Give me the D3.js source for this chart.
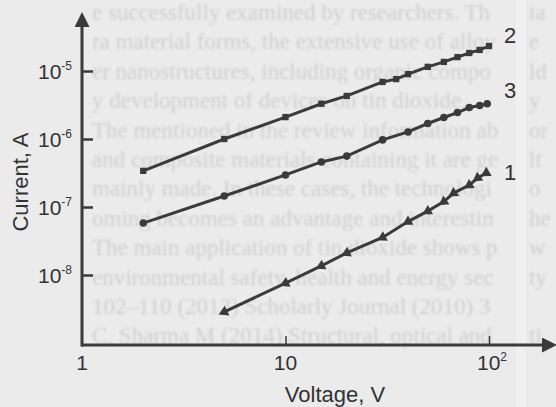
<!DOCTYPE html>
<html>
<head>
<meta charset="utf-8">
<script src="https://cdn.jsdelivr.net/npm/d3@7"></script>
<style>
  body { margin: 0; background: #ebebeb; }
  svg { display: block; }
</style>
</head>
<body>
<svg id="chart" width="556" height="407"></svg>
<script>
// curve 2 (squares)
const voltage2 = [2, 5, 10, 15, 20, 30, 35, 40, 50, 60, 70, 80, 90, 100];
const current2 = [3.4e-7, 1.0e-6, 2.1e-6, 3.3e-6, 4.3e-6, 6.9e-6, 7.6e-6, 9.0e-6, 1.15e-5, 1.36e-5, 1.6e-5, 1.84e-5, 2.04e-5, 2.33e-5];
// curve 3 (circles)
const voltage3 = [2, 5, 10, 15, 20, 30, 40, 50, 60, 70, 80, 90, 98];
const current3 = [5.8e-8, 1.45e-7, 2.96e-7, 4.6e-7, 5.6e-7, 9.7e-7, 1.27e-6, 1.69e-6, 2.07e-6, 2.45e-6, 2.9e-6, 3.1e-6, 3.3e-6];
// curve 1 (triangles)
const voltage1 = [5, 10, 15, 20, 30, 40, 50, 60, 67, 80, 88, 97];
const current1 = [2.86e-9, 7.6e-9, 1.36e-8, 2.11e-8, 3.56e-8, 6.1e-8, 8.7e-8, 1.2e-7, 1.6e-7, 2.1e-7, 2.67e-7, 3.16e-7];

const xTicks = [1, 10, 100];
const xTickLabels = [['1', ''], ['10', ''], ['10', '2']];
const yTicks = [1e-5, 1e-6, 1e-7, 1e-8];
const yTickLabels = [['10', '-5'], ['10', '-6'], ['10', '-7'], ['10', '-8']];

// faint text showing through the scanned page
const ghostLines = [
  'e successfully examined by researchers. The transi',
  'ra material forms, the extensive use of alloying, the',
  'er nanostructures, including organic components, are',
  'y development of devices on tin dioxide.',
  'The mentioned in the review information about',
  'and composite materials containing it are generally',
  'mainly made. In these cases, the technological',
  'oming becomes an advantage and interesting fo',
  'The main application of tin dioxide shows promi',
  'environmental safety, health and energy security.',
  '102–110 (2013) Scholarly Journal (2010) 35',
  'C, Sharma M (2014) Structural, optical and sensing'
];
const ghostRight = ['ta', 'e', 'ld', 'y', 'or', 'lt', 'o', 'he', 'w', 'ty', '', 'ti'];

const ink = '#3b3b3b';
const svg = d3.select('#chart');

const defs = svg.append('defs');
defs.append('filter').attr('id', 'soft')
  .append('feGaussianBlur').attr('stdDeviation', 0.9);
defs.append('marker')
  .attr('id', 'arrow')
  .attr('viewBox', '0 0 10 10')
  .attr('refX', 2).attr('refY', 5)
  .attr('markerWidth', 5).attr('markerHeight', 5)
  .attr('markerUnits', 'strokeWidth')
  .attr('orient', 'auto')
  .append('path').attr('d', 'M0,0 L10,5 L0,10 z').attr('fill', ink);

svg.append('rect').attr('width', 556).attr('height', 407).attr('fill', '#ebebeb');
svg.append('rect').attr('x', 516).attr('width', 10).attr('height', 407).attr('fill', '#f0f0f0');

// ghost text, left column then right column
const ghost = svg.append('g')
  .attr('filter', 'url(#soft)')
  .attr('font-family', '"Liberation Serif", "DejaVu Serif", serif')
  .attr('font-size', 23)
  .attr('fill', '#d0d0d0');
ghost.append('g')
  .selectAll('text')
  .data(ghostLines)
  .enter()
  .append('text')
  .attr('x', 92)
  .attr('y', (d, i) => 20 + i * 29.4)
  .text(d => d)
  .each(function(d) {
    // cut long lines where the page column ends
    let s = d;
    while (this.getComputedTextLength() > 408 && s.length > 1) {
      s = s.slice(0, -1);
      this.textContent = s;
    }
  });
ghost.append('g')
  .selectAll('text')
  .data(ghostRight)
  .enter()
  .append('text')
  .attr('x', 529)
  .attr('y', (d, i) => 20 + i * 29.4)
  .text(d => d);

// scales
const x = d3.scaleLog().domain([1, 100]).range([82, 489]);
const y = d3.scaleLog().domain([1e-8, 1e-5]).range([275, 71]);
const x0 = 82, y0 = 345;

// axes (ticks pointing inward)
svg.append('g')
  .attr('transform', `translate(0,${y0})`)
  .call(d3.axisBottom(x).tickValues(xTicks.slice(1)).tickSize(-9).tickFormat(''))
  .call(g => g.select('.domain').remove())
  .selectAll('line').attr('stroke', ink).attr('stroke-width', 1.5);
svg.append('g')
  .attr('transform', `translate(${x0},0)`)
  .call(d3.axisLeft(y).tickValues(yTicks).tickSize(-11).tickFormat(''))
  .call(g => g.select('.domain').remove())
  .selectAll('line').attr('stroke', ink).attr('stroke-width', 2.5);

svg.append('line')
  .attr('x1', x0 - 1).attr('y1', y0).attr('x2', 545).attr('y2', y0)
  .attr('stroke', ink).attr('stroke-width', 3).attr('marker-end', 'url(#arrow)');
svg.append('line')
  .attr('x1', x0).attr('y1', y0 + 1.5).attr('x2', x0).attr('y2', 24)
  .attr('stroke', ink).attr('stroke-width', 3).attr('marker-end', 'url(#arrow)');

const font = '"Liberation Sans", Arial, sans-serif';

// tick labels
const tl = svg.append('g').attr('font-family', font).attr('fill', '#333');
yTicks.forEach((v, i) => {
  const t = tl.append('text')
    .attr('x', 72).attr('y', y(v) + 8)
    .attr('text-anchor', 'end')
    .attr('font-size', 21);
  t.append('tspan').text(yTickLabels[i][0]);
  t.append('tspan').attr('font-size', 12).attr('dy', -9).text(yTickLabels[i][1]);
});
xTicks.forEach((v, i) => {
  const t = tl.append('text')
    .attr('x', x(v) + (xTickLabels[i][1] ? 3 : 0)).attr('y', 370)
    .attr('text-anchor', 'middle')
    .attr('font-size', 21);
  t.append('tspan').text(xTickLabels[i][0]);
  if (xTickLabels[i][1]) {
    t.append('tspan').attr('font-size', 12).attr('dy', -9).text(xTickLabels[i][1]);
  }
});

// axis titles
svg.append('text')
  .attr('x', 335).attr('y', 402)
  .attr('text-anchor', 'middle')
  .attr('font-family', font).attr('font-size', 22).attr('fill', '#333')
  .text('Voltage, V');
svg.append('text')
  .attr('transform', 'translate(28,182) rotate(-90)')
  .attr('text-anchor', 'middle')
  .attr('font-family', font).attr('font-size', 22).attr('fill', '#333')
  .text('Current, A');

// curves
const line = d3.line().x(d => x(d[0])).y(d => y(d[1]));
const series = [
  { name: '2', pts: d3.zip(voltage2, current2), symbol: d3.symbolSquare, size: 40, labelY: 43 },
  { name: '3', pts: d3.zip(voltage3, current3), symbol: d3.symbolCircle, size: 45, labelY: 98 },
  { name: '1', pts: d3.zip(voltage1, current1), symbol: d3.symbolTriangle, size: 50, labelY: 180 }
];

series.forEach(s => {
  const g = svg.append('g');
  g.append('path')
    .datum(s.pts)
    .attr('d', line)
    .attr('fill', 'none')
    .attr('stroke', ink)
    .attr('stroke-width', 3);
  g.selectAll('path.pt')
    .data(s.pts)
    .enter()
    .append('path')
    .attr('class', 'pt')
    .attr('d', d3.symbol().type(s.symbol).size(s.size))
    .attr('fill', ink)
    .attr('transform', (d, i) => {
      let rot = 0;
      // triangles point down the line, like arrow heads
      if (s.symbol === d3.symbolTriangle) {
        const a = s.pts[Math.max(i - 1, 0)], b = s.pts[Math.min(i + 1, s.pts.length - 1)];
        const ang = Math.atan2(y(a[1]) - y(b[1]), x(a[0]) - x(b[0])) * 180 / Math.PI;
        rot = ang + 90;
      }
      return `translate(${x(d[0])},${y(d[1])}) rotate(${rot})`;
    });
  svg.append('text')
    .attr('x', 510).attr('y', s.labelY)
    .attr('text-anchor', 'middle')
    .attr('font-family', font).attr('font-size', 22).attr('fill', '#333')
    .text(s.name);
});
</script>
</body>
</html>
